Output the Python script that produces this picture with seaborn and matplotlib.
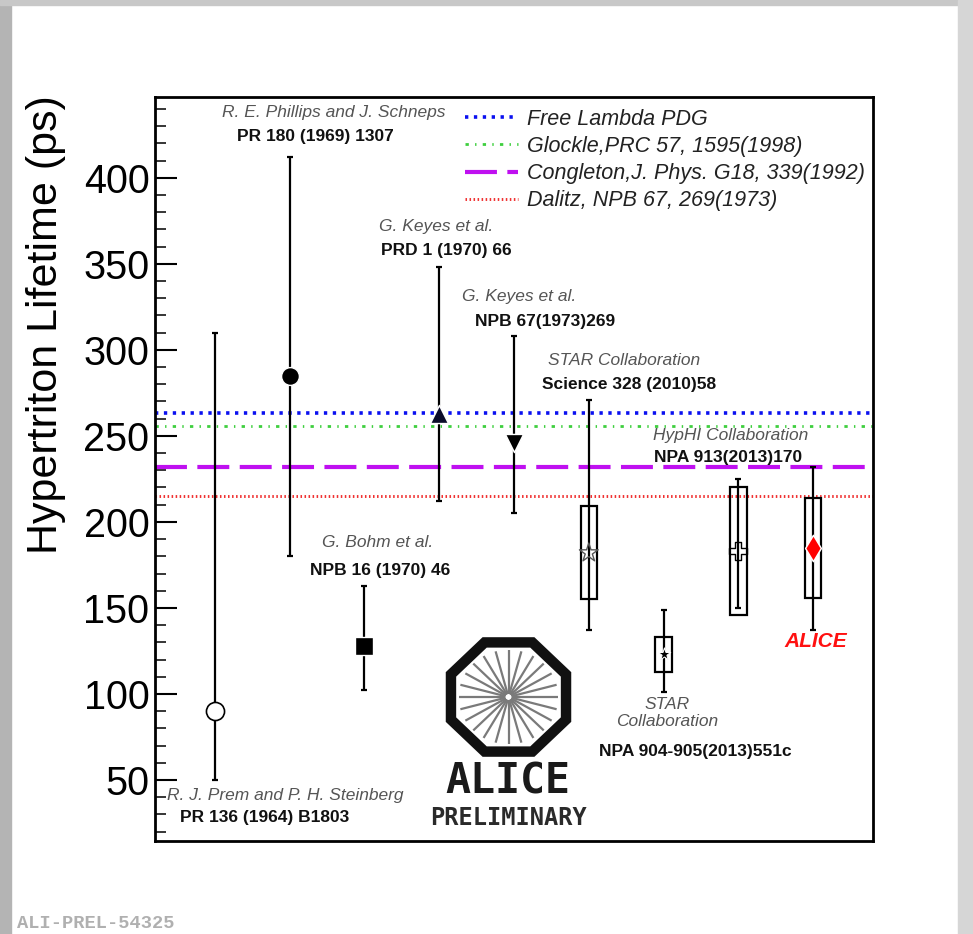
import numpy as np
import pandas as pd
import matplotlib
matplotlib.use("Agg")
import matplotlib.pyplot as plt
import seaborn as sns
from matplotlib.ticker import MultipleLocator, NullLocator
from matplotlib.patches import RegularPolygon, Rectangle

# ---------------- data ----------------
experiments = ["Prem 1964", "Phillips 1969", "Bohm 1970", "Keyes 1970", "Keyes 1973",
               "STAR 2010", "STAR 2013", "HypHI 2013", "ALICE"]
positions = [1, 2, 3, 4, 5, 6, 7, 8, 9]
lifetime = [90, 285, 128, 263, 246, 182, 123, 183, 185]
stat_hi = [310, 412, 163, 348, 308, 271, 149, 225, 232]
stat_lo = [50, 180, 102, 212, 205, 137, 101, 150, 137]
sys_positions = [6, 7, 8, 9]
sys_hi = [209, 133, 220, 214]
sys_lo = [155, 113, 146, 156]

theory_labels = ["Free Lambda PDG", "Glockle,PRC 57, 1595(1998)",
                 "Congleton,J. Phys. G18, 339(1992)", "Dalitz, NPB 67, 269(1973)"]
theory_values = [263.2, 256, 232, 215]

name_labels = [
    (2.59, 437.8, "R. E. Phillips and J. Schneps"),
    (3.96, 371.5, "G. Keyes et al."),
    (5.07, 330.8, "G. Keyes et al."),
    (6.47, 293.6, "STAR Collaboration"),
    (7.89, 250.0, "HypHI Collaboration"),
    (3.18, 187.8, "G. Bohm et al."),
    (7.05, 93.6, "STAR"),
    (7.05, 83.7, "Collaboration"),
    (1.94, 40.7, "R. J. Prem and P. H. Steinberg"),
]
ref_labels = [
    (2.34, 423.8, "PR 180 (1969) 1307"),
    (4.10, 357.6, "PRD 1 (1970) 66"),
    (5.41, 316.3, "NPB 67(1973)269"),
    (6.54, 279.7, "Science 328 (2010)58"),
    (7.86, 237.2, "NPA 913(2013)170"),
    (3.21, 171.5, "NPB 16 (1970) 46"),
    (7.42, 66.3, "NPA 904-905(2013)551c"),
    (1.67, 27.9, "PR 136 (1964) B1803"),
]

# ---------------- style ----------------
sns.set_theme(style="white")
plt.rcParams["font.family"] = ["Liberation Sans", "DejaVu Sans"]
plt.rcParams["lines.scale_dashes"] = False

W, H = 973, 934
fig = plt.figure(figsize=(W / 100, H / 100), dpi=100)
fig.patch.set_facecolor("white")

# page borders
fig.patches.append(Rectangle((0, 0), 11 / W, 1, transform=fig.transFigure,
                             color="#b4b4b4", zorder=0))
fig.patches.append(Rectangle((0, 1 - 5 / H), 1, 5 / H, transform=fig.transFigure,
                             color="#c8c8c8", zorder=0))
fig.patches.append(Rectangle((1 - 15 / W, 0), 15 / W, 1, transform=fig.transFigure,
                             color="#d6d6d6", zorder=0))

ax = fig.add_axes([155 / W, 1 - 841 / H, 718 / W, 744 / H])
ax.set_facecolor("white")
ax.set_xlim(0.2, 9.8)
ax.set_ylim(14.5, 447)

# theory lines
styles = [
    dict(color="#0a10f0", lw=2.6, ls=(0, (2.4, 4.0))),
    dict(color="#3fcf3f", lw=2.0, ls=(0, (2.4, 4.5, 1.0, 4.5))),
    dict(color="#bf10f0", lw=3.0, ls=(0, (23, 7.5))),
    dict(color="#f03030", lw=2.1, ls=(0, (1.1, 1.8))),
]
handles = []
for v, lab, st in zip(theory_values, theory_labels, styles):
    h = ax.axhline(v, color=st["color"], lw=st["lw"], linestyle=st["ls"], zorder=1, label=lab)
    handles.append(h)

# systematic boxes
sys_h = np.array(sys_hi) - np.array(sys_lo)
ax.bar(sys_positions, sys_h, bottom=sys_lo, width=0.22, fill=False,
       edgecolor="black", linewidth=1.6, zorder=3)

# statistical error bars
lt = np.array(lifetime)
yerr = [lt - np.array(stat_lo), np.array(stat_hi) - lt]
ax.errorbar(positions, lifetime, yerr=yerr, fmt="none", ecolor="black",
            elinewidth=1.6, capsize=2.2, capthick=1.6, zorder=4)

# markers
marker_specs = [
    dict(marker="o", s=170, facecolor="white", edgecolor="black", linewidth=1.2),
    dict(marker="o", s=165, color="black"),
    dict(marker="s", s=150, color="black"),
    dict(marker="^", s=170, color="#0b0b2a"),
    dict(marker="v", s=170, color="black"),
    dict(marker="*", s=200, facecolor="none", edgecolor="#555555", linewidth=1.0),
    dict(marker="*", s=90, color="black"),
    dict(marker="P", s=170, facecolor="none", edgecolor="black", linewidth=1.0),
    dict(marker="d", s=180, color="#ff0000"),
]
df = pd.DataFrame({"experiment": experiments, "x": positions, "tau": lifetime})
for i, spec in enumerate(marker_specs):
    sub = df.iloc[[i]]
    sns.scatterplot(data=sub, x="x", y="tau", ax=ax, zorder=5, legend=False, **spec)

# labels
for x, y, t in name_labels:
    ax.text(x, y, t, ha="center", va="center", fontsize=12.5, style="italic", color="#555555")
for x, y, t in ref_labels:
    ax.text(x, y, t, ha="center", va="center", fontsize=12.5, weight="bold", color="#111111")
ax.text(9.04, 130.2, "ALICE", ha="center", va="center", fontsize=15, weight="bold",
        style="italic", color="#ff1010")

# axes styling
for sp in ax.spines.values():
    sp.set_color("black")
    sp.set_linewidth(2.0)
ax.xaxis.set_major_locator(NullLocator())
ax.yaxis.set_major_locator(MultipleLocator(50))
ax.yaxis.set_minor_locator(MultipleLocator(10))
ax.set_yticks([50, 100, 150, 200, 250, 300, 350, 400])
ax.tick_params(axis="y", which="major", direction="in", length=16, width=1.5,
               labelsize=28.5, pad=4, left=True, right=False, colors="black")
ax.tick_params(axis="y", which="minor", direction="in", length=8, width=1.3,
               left=True, right=False)
ax.set_xlabel("")
ax.set_ylabel("")
fig.text(46 / W, 1 - 325 / H, "Hypertriton Lifetime (ps)", rotation=90,
         ha="center", va="center", fontsize=31, color="black")

# legend
leg = ax.legend(handles, theory_labels, loc="upper left",
                bbox_to_anchor=(465 / W, 1 - 109 / H), bbox_transform=fig.transFigure,
                frameon=False, prop=dict(style="italic", size=15.5, family="Liberation Sans"),
                handlelength=2.45, handletextpad=0.45, labelspacing=0.28,
                borderpad=0, borderaxespad=0, labelcolor="#222222")

# ALICE logo
lax = fig.add_axes([440 / W, 1 - 762 / H, 137 / W, 130 / H])
lax.set_xlim(-1.1, 1.1)
lax.set_ylim(-1.1, 1.1)
lax.axis("off")
lax.add_patch(RegularPolygon((0, 0), 8, radius=1.0, orientation=np.pi / 8,
                             fill=False, edgecolor="#111111", linewidth=7.5))
for k in range(24):
    a = k * np.pi / 12
    lax.plot([0.05 * np.cos(a), 0.80 * np.cos(a)], [0.05 * np.sin(a), 0.80 * np.sin(a)],
             color="#7a7a7a", lw=1.6, solid_capstyle="butt")
fig.text(508 / W, 1 - 782 / H, "ALICE", ha="center", va="center",
         family="DejaVu Sans Mono", fontsize=30, weight="bold", color="#1a1a1a")
fig.text(508 / W, 1 - 818 / H, "PRELIMINARY", ha="center", va="center",
         family="DejaVu Sans Mono", fontsize=17, weight="bold", color="#2a2a2a")

fig.text(17 / W, 1 - 924 / H, "ALI-PREL-54325", ha="left", va="center",
         family="Liberation Mono", fontsize=13.5, weight="bold", color="#b0b0b0")

fig.savefig("out.png", dpi=100, facecolor=fig.get_facecolor())
